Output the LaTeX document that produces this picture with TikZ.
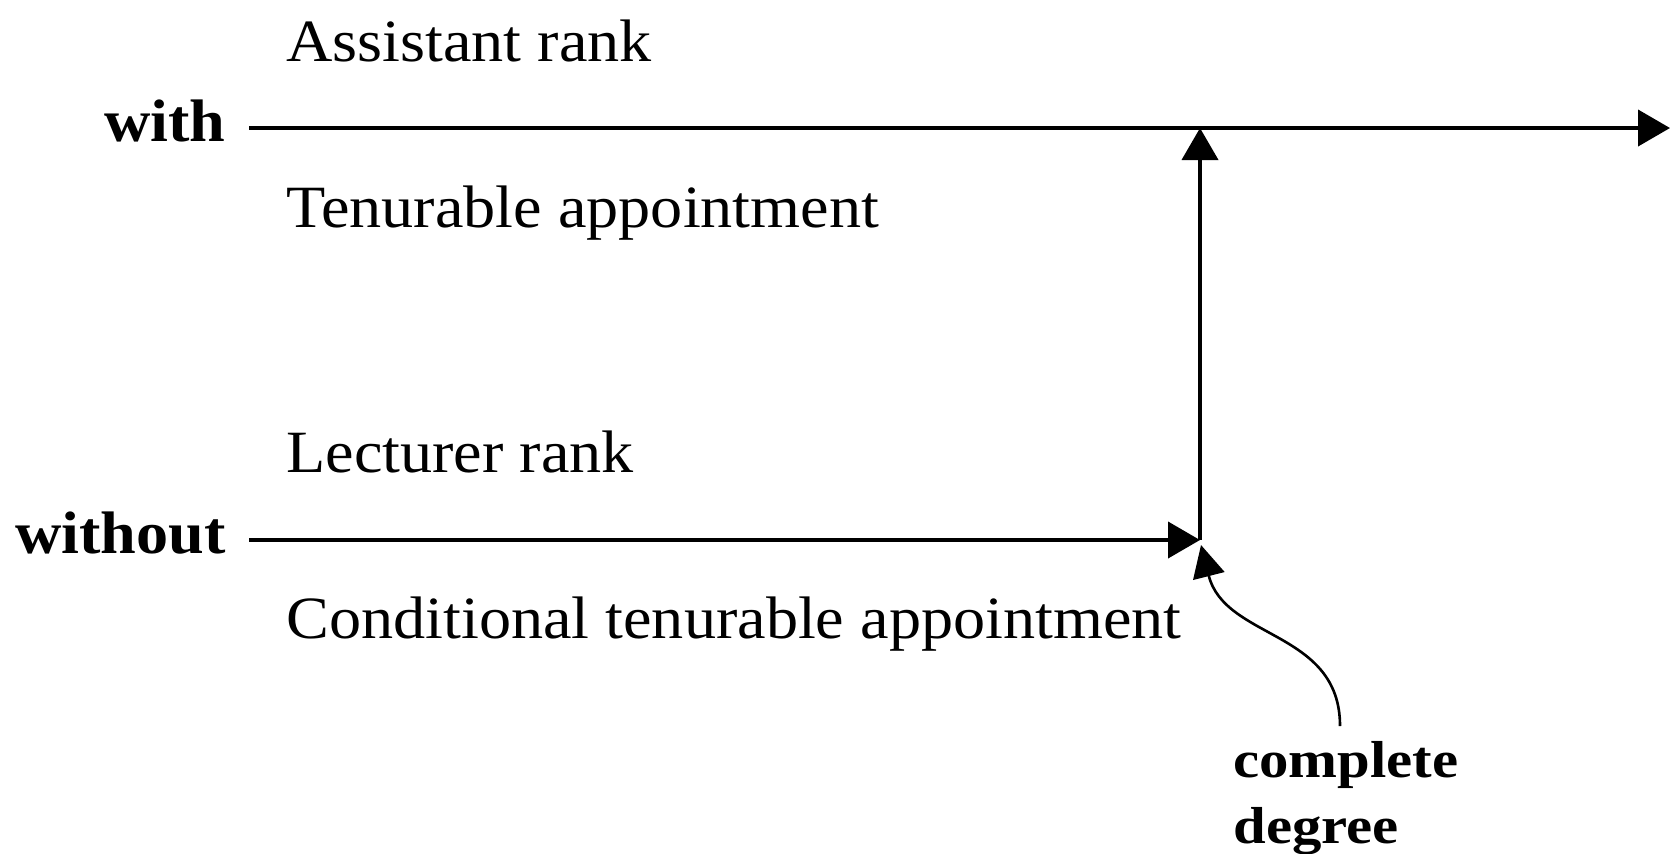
\documentclass[tikz,border=0pt]{standalone}
\usepackage{fontspec}
\setmainfont{Liberation Serif}[FakeStretch=1.07]
\newfontfamily\cdfont{Liberation Serif}[FakeStretch=1.13]
\usetikzlibrary{arrows.meta}
\begin{document}
\begin{tikzpicture}[x=0.5pt,y=-0.5pt,
  lbl/.style={inner sep=0pt, anchor=base west, font=\fontsize{30}{36}\selectfont},
  side/.style={inner sep=0pt, anchor=base east, font=\fontsize{30}{36}\selectfont\bfseries},
  conn/.style={line width=2pt, -{Triangle[length=16pt,width=18pt]}},
]
\useasboundingbox (0,0) rectangle (1673,853);
% labels
\node[lbl] (ar) at (286,61) {Assistant rank};
\node[lbl] (ta) at (286,227) {Tenurable appointment};
\node[lbl] (lr) at (286,472) {Lecturer rank};
\node[lbl] (cta) at (286,638) {Conditional tenurable appointment};
\node[side] (with) at (226,141) {with};
\node[side] (without) at (226,553) {without};
\node[inner sep=0pt, anchor=base west, align=left,
      font=\fontsize{26}{33}\selectfont\cdfont\bfseries] (cd) at (1233,843) {complete\\degree};
% coordinates
\coordinate (ws) at (249,128);
\coordinate (we) at (1670,128);
\coordinate (wos) at (249,540);
\coordinate (corner) at (1200,540);
\coordinate (top) at (1200,128);
\coordinate (cs) at (1340,726);
\coordinate (ctip) at (1201,545);
% connectors
\draw[conn] (ws) -- (we);
\draw[conn] (wos) -- (corner);
\draw[conn] (corner) -- (top);
\draw[line width=1.3pt, -{Triangle[length=16pt,width=16pt]}]
  (cs) .. controls (1340,630) and (1225,640) .. (ctip);
\end{tikzpicture}
\end{document}
